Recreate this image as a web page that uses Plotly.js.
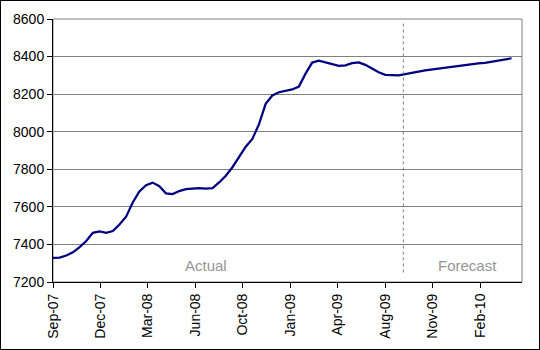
<!DOCTYPE html>
<html>
<head>
<meta charset="utf-8">
<script src="https://cdn.plot.ly/plotly-3.0.1.min.js"></script>
<style>
  html, body { margin: 0; padding: 0; background: #fff; }
  #wrap { position: relative; width: 540px; height: 350px; }
  #chart { position: absolute; left: 0; top: 0; width: 540px; height: 350px; }
  #frame { position: absolute; left: 0; top: 0; width: 540px; height: 350px; box-sizing: border-box; border: 1px solid #000; pointer-events: none; }
</style>
</head>
<body>
<div id="wrap"><div id="chart"></div><div id="frame"></div></div>
<script>
// Series: fortnightly readings starting 2007-09-03
const startDate = '2007-09-03';
const stepDays = 14;
const values = [
  7328, 7330, 7341, 7358, 7386, 7418, 7462, 7469, 7462, 7471,
  7506, 7548, 7623, 7682, 7715, 7729, 7710, 7672, 7668, 7684,
  7694, 7697, 7700, 7697, 7700, 7730, 7766, 7811, 7867, 7920,
  7962, 8040, 8148, 8193, 8210, 8218, 8225, 8240, 8309, 8368,
  8378, 8369, 8358, 8350, 8353, 8365, 8369, 8356, 8336, 8316,
  8303, 8300, 8300, 8307, 8312, 8320, 8327, 8332, 8336, 8342,
  8348, 8352, 8357, 8362, 8364, 8367, 8373, 8380, 8386, 8391
];
const tickDates = ['2007-09-03','2007-12-12','2008-03-21','2008-06-29','2008-10-07',
                   '2009-01-15','2009-04-25','2009-08-03','2009-11-11','2010-02-19'];
const tickLabels = ['Sep-07','Dec-07','Mar-08','Jun-08','Oct-08',
                    'Jan-09','Apr-09','Aug-09','Nov-09','Feb-10'];
const xRange = ['2007-09-03', '2010-05-18'];
const forecastStart = '2009-09-10';
const sectionLabels = ['Actual', 'Forecast'];
const sectionLabelDates = ['2008-07-21', '2010-01-23'];

function addDays(iso, n) {
  const d = new Date(iso + 'T00:00:00Z');
  d.setUTCDate(d.getUTCDate() + n);
  return d.toISOString().slice(0, 10);
}
const dates = values.map((v, i) => addDays(startDate, i * stepDays));

const font = { family: 'Liberation Sans, Arial, sans-serif', size: 14, color: '#000' };

const trace = {
  x: dates, y: values, type: 'scatter', mode: 'lines',
  line: { color: '#000080', width: 2.25 },
  hoverinfo: 'skip'
};

const layout = {
  width: 540, height: 350,
  margin: { l: 53, r: 18, t: 19, b: 68 },
  paper_bgcolor: '#fff', plot_bgcolor: '#fff',
  font: font,
  showlegend: false,
  xaxis: {
    type: 'date', range: xRange,
    tickmode: 'array', tickvals: tickDates, ticktext: tickLabels,
    tickangle: -90, ticks: 'outside', ticklen: 5, tickcolor: '#000',
    showgrid: false, zeroline: false,
    showline: true, linecolor: '#000', linewidth: 1,
    tickfont: font
  },
  yaxis: {
    range: [7200, 8600], dtick: 200, tick0: 7200,
    ticks: 'outside', ticklen: 5, tickcolor: '#000',
    showgrid: true, gridcolor: '#808080', gridwidth: 1,
    zeroline: false, showline: true, linecolor: '#000', linewidth: 1,
    tickfont: font
  },
  shapes: [
    { type: 'rect', xref: 'paper', yref: 'paper', x0: 0, x1: 1, y0: 0, y1: 1,
      line: { color: '#808080', width: 1 }, layer: 'below' },
    { type: 'line', xref: 'x', yref: 'y', x0: forecastStart, x1: forecastStart, y0: 8576, y1: 7236,
      line: { color: '#808080', width: 1, dash: 'dot' } }
  ],
  annotations: sectionLabels.map((t, i) => ({
    x: sectionLabelDates[i], y: 7289, xref: 'x', yref: 'y', text: t, showarrow: false,
    font: { family: 'Liberation Sans, Arial, sans-serif', size: 15, color: '#969696' },
    xanchor: 'center', yanchor: 'middle'
  }))
};

Plotly.newPlot('chart', [trace], layout, { displayModeBar: false, staticPlot: true });
</script>
</body>
</html>
